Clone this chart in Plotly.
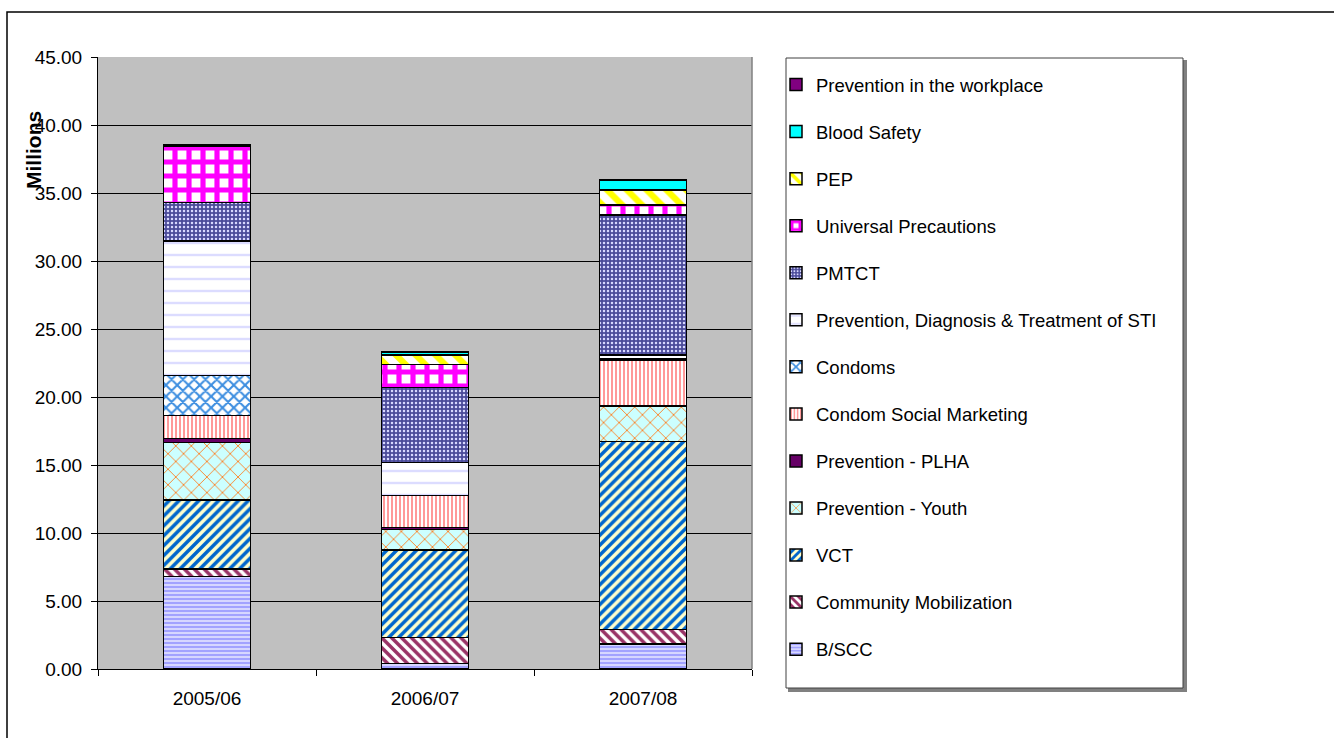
import plotly.graph_objects as go

# Financial years on the x axis
years = ["2005/06", "2006/07", "2007/08"]

# Spending per programme area (millions), bottom of the stack first
bscc = [6.79, 0.42, 1.84]
community_mobilization = [0.56, 1.91, 1.08]
vct = [5.08, 6.42, 13.80]
prevention_youth = [4.21, 1.52, 2.57]
prevention_plha = [0.32, 0.12, 0.05]
condom_social_marketing = [1.67, 2.35, 3.38]
condoms = [2.94, 0.00, 0.10]
sti = [9.90, 2.46, 0.27]
pmtct = [2.84, 5.51, 10.29]
universal_precautions = [4.10, 1.67, 0.74]
pep = [0.02, 0.71, 1.10]
blood_safety = [0.02, 0.19, 0.74]
workplace = [0.10, 0.05, 0.05]

y_ticks = [0, 5, 10, 15, 20, 25, 30, 35, 40, 45]

series = [
    ("B/SCC", bscc, dict(shape="-", bgcolor="#d6d6ff", fgcolor="#9c9cff", size=4, solidity=0.45)),
    ("Community Mobilization", community_mobilization, dict(shape="\\", bgcolor="white", fgcolor="#993366", size=7, solidity=0.5)),
    ("VCT", vct, dict(shape="/", bgcolor="#ffffcc", fgcolor="#0066cc", size=7, solidity=0.5)),
    ("Prevention - Youth", prevention_youth, dict(shape="x", bgcolor="#ccffff", fgcolor="#ff7a1a", size=11, solidity=0.15)),
    ("Prevention - PLHA", prevention_plha, None),
    ("Condom Social Marketing", condom_social_marketing, dict(shape="|", bgcolor="white", fgcolor="#ff9999", size=4, solidity=0.5)),
    ("Condoms", condoms, dict(shape="x", bgcolor="#ffffff", fgcolor="#3d8ee0", size=8, solidity=0.45)),
    ("Prevention, Diagnosis & Treatment of STI", sti, dict(shape="-", bgcolor="white", fgcolor="#dcdcff", size=12, solidity=0.2)),
    ("PMTCT", pmtct, dict(shape=".", bgcolor="#4b4b9a", fgcolor="#d8d8ff", size=4, solidity=0.3)),
    ("Universal Precautions", universal_precautions, dict(shape="+", bgcolor="white", fgcolor="#ff00ff", size=14, solidity=0.6)),
    ("PEP", pep, dict(shape="\\", bgcolor="white", fgcolor="#ffff00", size=14, solidity=0.45)),
    ("Blood Safety", blood_safety, None),
    ("Prevention in the workplace", workplace, None),
]
solid_colors = {
    "Prevention - PLHA": "#660066",
    "Blood Safety": "#00ffff",
    "Prevention in the workplace": "#800080",
}

fig = go.Figure()
n = len(series)
for i, (name, values, pattern) in enumerate(series):
    marker = dict(line=dict(color="black", width=1.5))
    if pattern is None:
        marker["color"] = solid_colors[name]
    else:
        marker["color"] = pattern["bgcolor"]
        marker["pattern"] = dict(fillmode="replace", **pattern)
    fig.add_trace(go.Bar(
        x=years, y=values, name=name, marker=marker,
        legendgroup=name, legendrank=n - i,
    ))

FONT = "Liberation Sans, Arial, sans-serif"

fig.update_layout(
    width=1334,
    height=738,
    barmode="stack",
    bargap=0.6,
    paper_bgcolor="white",
    plot_bgcolor="#c0c0c0",
    margin=dict(l=98, r=582, t=57, b=69),
    font=dict(family=FONT, size=19, color="black"),
    xaxis=dict(
        showline=True, linecolor="black", linewidth=1,
        ticks="outside", tickson="boundaries", ticklen=6, tickcolor="black",
        tickfont=dict(size=19), showgrid=False, ticklabelstandoff=12,
    ),
    yaxis=dict(
        range=[0, 45], tickvals=y_ticks, tickformat=".2f",
        showline=True, linecolor="black", linewidth=1,
        ticks="outside", ticklen=6, tickcolor="black",
        showgrid=True, gridcolor="black", gridwidth=1,
        zeroline=False, tickfont=dict(size=19), ticklabelstandoff=5,
    ),
    legend=dict(
        x=(776 - 98) / 654, xanchor="left", y=(669 - 66) / 612, yanchor="top",
        traceorder="grouped", tracegroupgap=20,
        bgcolor="rgba(0,0,0,0)", borderwidth=0,
        font=dict(size=18.5, family=FONT),
    ),
    showlegend=True,
)

# Plot-area right border, legend frame with shadow, and the outer chart frame
fig.add_shape(type="line", xref="paper", yref="paper", x0=1, x1=1, y0=0, y1=1,
              line=dict(color="#808080", width=1.5))
fig.add_shape(type="rect", xref="paper", yref="paper",
              x0=(789 - 98) / 654, x1=(1186 - 98) / 654,
              y0=(669 - 691) / 612, y1=(669 - 61) / 612,
              line=dict(color="#808080", width=2), fillcolor="#808080", layer="below")
fig.add_shape(type="rect", xref="paper", yref="paper",
              x0=(786 - 98) / 654, x1=(1183 - 98) / 654,
              y0=(669 - 688) / 612, y1=(669 - 58) / 612,
              line=dict(color="#404040", width=1), fillcolor="white", layer="below")
fig.add_shape(type="rect", xref="paper", yref="paper",
              x0=(7 - 98) / 654, x1=(1345 - 98) / 654,
              y0=(669 - 760) / 612, y1=(669 - 12) / 612,
              line=dict(color="black", width=1.5), fillcolor="rgba(0,0,0,0)", layer="below")

fig.add_annotation(
    text="<b>Millions</b>", xref="paper", yref="paper",
    x=(33 - 98) / 654, y=(669 - 150) / 612, xanchor="center", yanchor="middle",
    textangle=-90, showarrow=False,
    font=dict(size=21, family=FONT, color="black"),
)

fig.write_html("out.html")
